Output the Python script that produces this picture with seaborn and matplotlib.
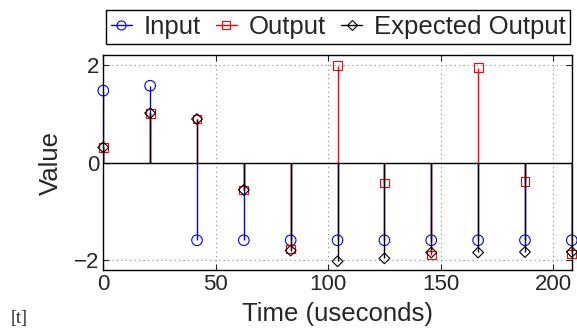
import matplotlib
matplotlib.use('Agg')
import matplotlib.pyplot as plt
import numpy as np
import pandas as pd
import seaborn as sns
from matplotlib.lines import Line2D
from matplotlib.legend_handler import HandlerLine2D


# sample times (useconds) and the three sampled signals
times = [0, 20.83, 41.67, 62.5, 83.33, 104.17, 125, 145.83, 166.67, 187.5, 208.33]
input_vals = [1.47, 1.57, -1.59, -1.59, -1.59, -1.59, -1.59, -1.59, -1.59, -1.59, -1.59]
output_vals = [0.31, 1.01, 0.89, -0.56, -1.77, 1.98, -0.42, -1.89, 1.94, -0.39, -1.87]
expected_vals = [0.31, 1.01, 0.89, -0.56, -1.80, -2.02, -1.96, -1.84, -1.84, -1.83, -1.83]

x_ticks = [0, 50, 100, 150, 200]
y_ticks = [-2, 0, 2]


class EndMarkerHandler(HandlerLine2D):
    # MATLAB style legend entry: short line with the marker at its end
    def get_xdata(self, legend, xdescent, ydescent, width, height, fontsize):
        xdata = np.array([-xdescent, -xdescent + width])
        return xdata, xdata[-1:]


sns.set_style('ticks')
plt.rcParams['font.family'] = ['Liberation Sans', 'DejaVu Sans']

df = pd.DataFrame({'time': times, 'Input': input_vals,
                   'Output': output_vals, 'Expected Output': expected_vals})

fig = plt.figure(figsize=(5.77, 3.31), dpi=100)
ax = fig.add_axes([0.179, 0.184, 0.812, 0.650])

series = [
    ('Input', 'blue', 'o', 58),
    ('Output', 'red', 's', 40),
    ('Expected Output', 'black', 'D', 30),
]

handles = []
z = 2
for name, color, marker, size in series:
    ax.vlines(df['time'], 0, df[name], colors=color, lw=1.0, zorder=z)
    sns.scatterplot(data=df, x='time', y=name, ax=ax, marker=marker, s=size,
                    color=color, facecolor='none', edgecolor=color,
                    linewidth=0.8, zorder=z + 0.1, legend=False, clip_on=False)
    handles.append(Line2D([], [], color=color, lw=1.0, marker=marker,
                          markersize=np.sqrt(size) * 0.85, markerfacecolor='none',
                          markeredgecolor=color, markeredgewidth=0.8, label=name))
    z += 0.2

ax.axhline(0, color='black', lw=1.0, zorder=3)

ax.set_xlim(0, 208.33)
ax.set_ylim(-2.2, 2.2)
ax.set_xticks(x_ticks)
ax.set_yticks(y_ticks)
ax.grid(True, color='0.55', linestyle=(0, (1, 3)), lw=0.8)
ax.tick_params(direction='in', top=True, right=True, length=4, width=0.8,
               labelsize=16, pad=3)
for sp in ax.spines.values():
    sp.set_color('black')
    sp.set_linewidth(1.0)

ax.set_xlabel('Time (useconds)', fontsize=18.5, labelpad=5)
ax.set_ylabel('Value', fontsize=18.5, labelpad=8)

leg = ax.legend(handles=handles, loc='lower right', bbox_to_anchor=(0.997, 1.05),
                ncol=3, fontsize=18.5, frameon=True, fancybox=False,
                handlelength=0.8, handletextpad=0.45, columnspacing=0.62,
                borderpad=0.2, borderaxespad=0,
                handler_map={Line2D: EndMarkerHandler()})
leg.get_frame().set_edgecolor('black')
leg.get_frame().set_linewidth(1.0)
leg.get_frame().set_alpha(1)

fig.text(0.018, 0.025, '[t]', family='Liberation Serif', fontsize=13)

fig.savefig('out.png', dpi=100)
